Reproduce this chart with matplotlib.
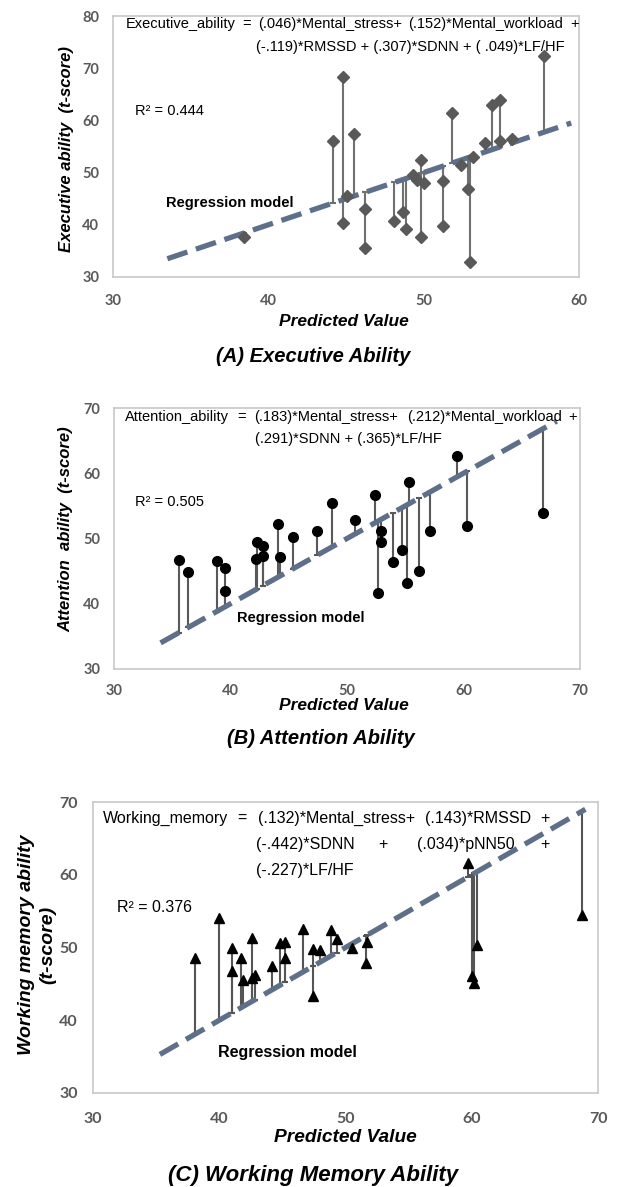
import matplotlib
matplotlib.use('Agg')
import matplotlib.pyplot as plt

# ---------------- data ----------------
A_pred = [38.45, 44.15, 44.83, 44.83, 45.05, 45.52, 46.23, 46.23, 48.11, 48.70, 48.85,
          49.34, 49.56, 49.83, 50.05, 49.83, 51.23, 51.27, 51.80, 52.39, 52.88, 52.99,
          53.20, 53.97, 54.38, 54.92, 54.92, 55.71, 57.77]
A_act = [37.7, 56.1, 68.4, 40.4, 45.5, 57.4, 43.0, 35.6, 40.8, 42.5, 39.25,
         49.5, 48.6, 52.4, 48.1, 37.6, 39.8, 48.4, 61.4, 51.5, 46.8, 32.9,
         53.0, 55.6, 62.9, 64.0, 56.1, 56.4, 72.3]
A_line = [33.5, 59.5]
A_xticks = [30, 40, 50, 60]
A_yticks = [30, 40, 50, 60, 70, 80]

B_pred = [35.58, 36.38, 38.81, 39.50, 39.50, 42.25, 42.19, 42.76, 42.76, 44.10, 44.25,
          45.34, 47.45, 48.74, 50.69, 52.43, 52.66, 52.92, 52.92, 53.97, 54.72, 55.12,
          55.29, 56.15, 57.12, 59.40, 60.33, 66.80]
B_act = [46.7, 44.9, 46.5, 45.5, 42.0, 49.4, 46.9, 48.9, 47.3, 52.2, 47.2,
         50.3, 51.2, 55.4, 52.8, 56.7, 41.6, 51.1, 49.4, 46.4, 48.3, 43.2,
         58.6, 45.0, 51.1, 62.6, 51.9, 53.9]
B_line = [34.0, 68.0]
B_xticks = [30, 40, 50, 60, 70]
B_yticks = [30, 40, 50, 60, 70]

C_pred = [38.08, 39.95, 41.01, 41.01, 41.72, 41.90, 42.60, 42.60, 42.83, 44.15, 44.81,
          45.23, 45.23, 46.61, 47.40, 47.40, 47.98, 48.82, 49.30, 50.51, 51.68, 51.62,
          59.68, 60.00, 60.18, 60.40, 68.70]
C_act = [48.5, 54.0, 50.0, 46.8, 48.5, 45.5, 51.3, 45.8, 46.2, 47.4, 50.6,
         50.7, 48.5, 52.6, 49.8, 43.3, 49.6, 52.4, 51.1, 49.9, 50.7, 47.9,
         61.6, 46.1, 45.1, 50.3, 54.4]
C_line = [35.3, 69.0]
C_xticks = [30, 40, 50, 60, 70]
C_yticks = [30, 40, 50, 60, 70]

# ---------------- figure ----------------
W, H = 635, 1187
fig = plt.figure(figsize=(W / 100, H / 100), dpi=100)

TXT = ['Liberation Sans', 'DejaVu Sans']
TICK = ['Lato', 'DejaVu Sans']
LINE_COLOR = '#5E7089'


def ax_at(l, t, r, b):
    return fig.add_axes([l / W, 1 - b / H, (r - l) / W, (b - t) / H])


def ftext(x, y, s, size=10.5, ha='left', va='center', **kw):
    fig.text(x / W, 1 - y / H, s, fontsize=size, ha=ha, va=va, family=TXT, **kw)


def style(ax, xt, yt, fs, xpad, ypad):
    ax.set_xlim(xt[0], xt[-1])
    ax.set_ylim(yt[0], yt[-1])
    ax.set_xticks(xt)
    ax.set_yticks(yt)
    ax.set_xticklabels([str(v) for v in xt], family=TICK, fontweight='bold',
                       fontsize=fs, color='#595959')
    ax.set_yticklabels([str(v) for v in yt], family=TICK, fontweight='bold',
                       fontsize=fs, color='#595959')
    ax.tick_params(axis='x', length=0, pad=xpad)
    ax.tick_params(axis='y', length=0, pad=ypad)
    for s in ax.spines.values():
        s.set_color('#c8c8c8')
        s.set_linewidth(1.2)


def panel(ax, pred, act, line, marker, mcolor, ms, stemcolor):
    ax.vlines(pred, pred, act, colors=stemcolor, lw=1.5, zorder=1)
    ax.plot(pred, pred, ls='none', marker='_', ms=5, mew=1.5, color=stemcolor, zorder=1)
    ax.plot(line, line, ls=(0, (4, 1.7)), lw=3.8, color=LINE_COLOR,
            dash_capstyle='butt', zorder=2)
    ax.plot(pred, act, ls='none', marker=marker, ms=ms, color=mcolor,
            mec=mcolor, zorder=3, clip_on=False)


# ----- Panel A -----
axA = ax_at(113, 16, 579, 277)
panel(axA, A_pred, A_act, A_line, 'D', '#595959', 6.0, '#707070')
style(axA, A_xticks, A_yticks, 10.5, 12, 10)

ftext(126, 24, 'Executive_ability')
ftext(247, 24, '=', ha='center')
ftext(258, 24, '(.046)*Mental_stress+')
ftext(408, 24, '(.152)*Mental_workload')
ftext(575, 24, '+', ha='center')
ftext(256, 47, '(-.119)*RMSSD + (.307)*SDNN + ( .049)*LF/HF')
ftext(135, 111, 'R² = 0.444')
ftext(166, 203, 'Regression model', fontweight='bold')
ftext(344, 321, 'Predicted Value', size=12.5, ha='center', fontweight='bold', style='italic')
ftext(313, 356, '(A) Executive Ability', size=14.5, ha='center', fontweight='bold', style='italic')
ftext(66, 149, 'Executive ability  (t-score)', size=12, ha='center', rotation=90,
      fontweight='bold', style='italic')

# ----- Panel B -----
axB = ax_at(114, 408, 580, 669)
panel(axB, B_pred, B_act, B_line, 'o', '#000000', 7.0, '#595959')
style(axB, B_xticks, B_yticks, 10.5, 11, 10)

ftext(125, 417, 'Attention_ability')
ftext(242, 417, '=', ha='center')
ftext(254, 417, '(.183)*Mental_stress+')
ftext(407, 417, '(.212)*Mental_workload')
ftext(573, 417, '+', ha='center')
ftext(255, 439, '(.291)*SDNN + (.365)*LF/HF')
ftext(135, 502, 'R² = 0.505')
ftext(237, 618, 'Regression model', fontweight='bold')
ftext(344, 706, 'Predicted Value', size=12.5, ha='center', fontweight='bold', style='italic')
ftext(321, 738, '(B) Attention Ability', size=14.5, ha='center', fontweight='bold', style='italic')
ftext(66, 529, 'Attention  ability  (t-score)', size=12, ha='center', rotation=90,
      fontweight='bold', style='italic')

# ----- Panel C -----
axC = ax_at(93, 802, 598, 1093)
panel(axC, C_pred, C_act, C_line, '^', '#000000', 7.5, '#555555')
style(axC, C_xticks, C_yticks, 11.5, 14, 11)

ftext(103, 818, 'Working_memory', size=11.5)
ftext(242, 818, '=', size=11.5, ha='center')
ftext(258, 818, '(.132)*Mental_stress+', size=11.5)
ftext(425, 818, '(.143)*RMSSD', size=11.5)
ftext(545, 818, '+', size=11.5, ha='center')
ftext(256, 845, '(-.442)*SDNN', size=11.5)
ftext(383, 845, '+', size=11.5, ha='center')
ftext(417, 845, '(.034)*pNN50', size=11.5)
ftext(545, 845, '+', size=11.5, ha='center')
ftext(256, 870, '(-.227)*LF/HF', size=11.5)
ftext(117, 907, 'R² = 0.376', size=11.5)
ftext(218, 1053, 'Regression model', size=11.5, fontweight='bold')
ftext(345, 1137, 'Predicted Value', size=13.8, ha='center', fontweight='bold', style='italic')
ftext(313, 1175, '(C) Working Memory Ability', size=16, ha='center', fontweight='bold', style='italic')
ftext(37, 945, 'Working memory ability\n(t-score)', size=14, ha='center', rotation=90,
      fontweight='bold', style='italic', linespacing=1.35, multialignment='center')

fig.savefig('out.png', dpi=100)
